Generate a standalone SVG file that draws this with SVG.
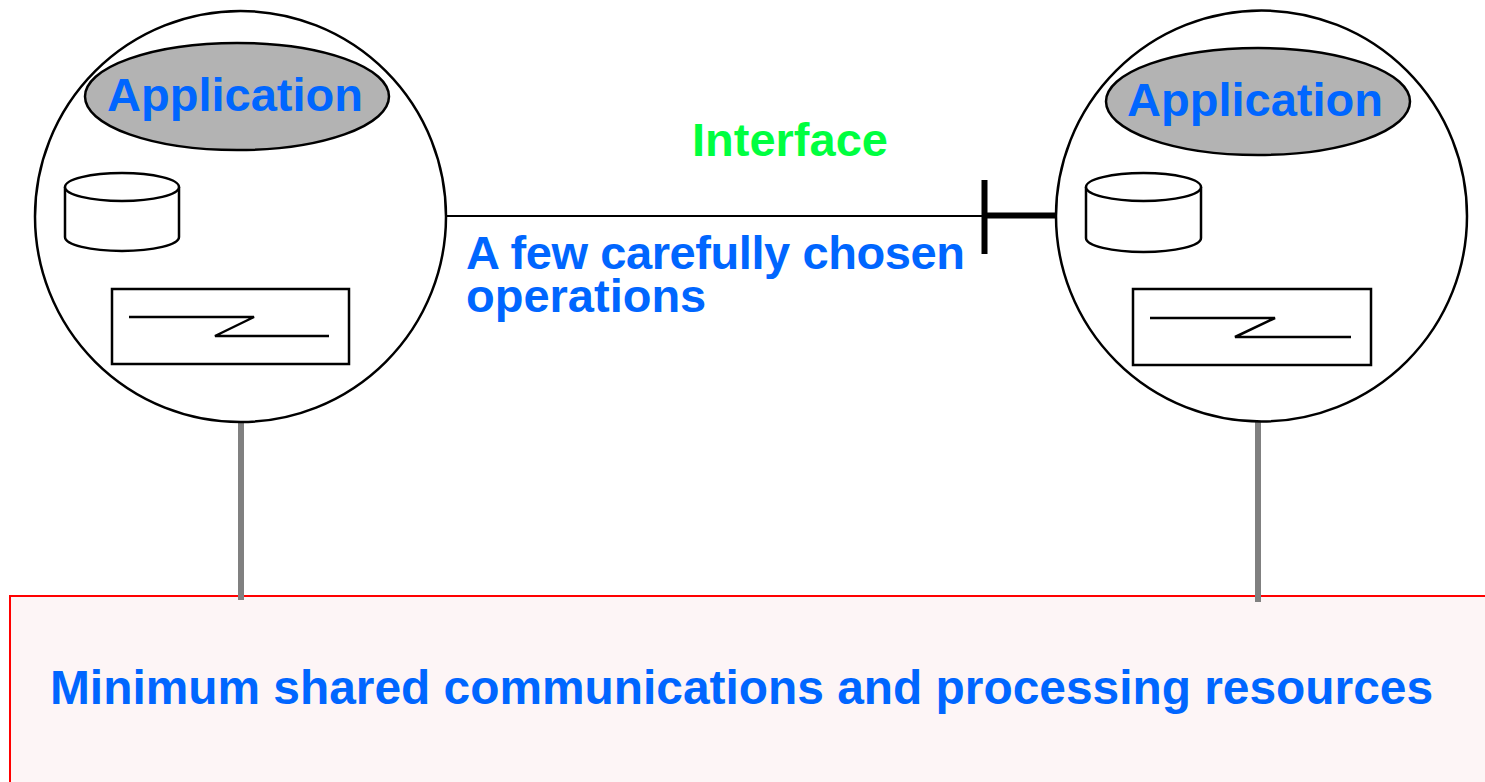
<svg xmlns="http://www.w3.org/2000/svg" width="1485" height="782" viewBox="0 0 1485 782">
  <style>
    .outline { fill: #ffffff; stroke: #000000; stroke-width: 2.5; }
    .app { fill: #b3b3b3; stroke: #000000; stroke-width: 2.5; }
    .thin { fill: none; stroke: #000000; stroke-width: 2.5; }
    .gray { stroke: #808080; stroke-width: 6; fill: none; }
    .label { font-family: "Liberation Sans", Arial, sans-serif; font-weight: bold; fill: #0066ff; }
    .green { font-family: "Liberation Sans", Arial, sans-serif; font-weight: bold; fill: #00ff40; }
  </style>
  <rect x="0" y="0" width="1485" height="782" fill="#ffffff"/>

  <g id="shared-resources">
    <rect x="10" y="596" width="1490" height="200" fill="#fdf5f6" stroke="#ff0000" stroke-width="2"/>
    <text class="label" x="50" y="704" font-size="48" textLength="1383" lengthAdjust="spacingAndGlyphs">Minimum shared communications and processing resources</text>
  </g>

  <g id="connectors">
    <line class="gray" x1="241" y1="421" x2="241" y2="600"/>
    <line class="gray" x1="1258" y1="421" x2="1258" y2="602"/>
    <line x1="446" y1="216" x2="984" y2="216" stroke="#000000" stroke-width="2"/>
    <line x1="984.5" y1="180" x2="984.5" y2="254" stroke="#000000" stroke-width="6"/>
    <line x1="984" y1="215.5" x2="1061" y2="215.5" stroke="#000000" stroke-width="6"/>
  </g>

  <g id="interface-label">
    <text class="green" x="692" y="156" font-size="47">Interface</text>
    <text class="label" x="466" y="269" font-size="47" textLength="499" lengthAdjust="spacing">A few carefully chosen</text>
    <text class="label" x="466" y="312" font-size="47">operations</text>
  </g>

  <g id="application-left">
    <circle class="outline" cx="240.5" cy="216.5" r="205.5"/>
    <ellipse class="app" cx="237" cy="96.5" rx="152" ry="53.5"/>
    <text class="label" x="235" y="111" font-size="47" text-anchor="middle">Application</text>
    <path class="outline" d="M65,187 L65,237 A57,14 0 0 0 179,237 L179,187"/>
    <ellipse class="outline" cx="122" cy="187" rx="57" ry="14"/>
    <rect class="outline" x="112" y="289" width="237" height="75"/>
    <polyline class="thin" points="129,317 254,317 215,336 329,336"/>
  </g>

  <g id="application-right">
    <circle class="outline" cx="1261.5" cy="216" r="205.5"/>
    <ellipse class="app" cx="1258" cy="101.5" rx="152" ry="53.5"/>
    <text class="label" x="1255" y="116" font-size="47" text-anchor="middle">Application</text>
    <path class="outline" d="M1086,187 L1086,238 A57.5,14 0 0 0 1201,238 L1201,187"/>
    <ellipse class="outline" cx="1143.5" cy="187" rx="57.5" ry="14"/>
    <rect class="outline" x="1133" y="289" width="238" height="76"/>
    <polyline class="thin" points="1150,318 1275,318 1235,337 1351,337"/>
  </g>
</svg>
